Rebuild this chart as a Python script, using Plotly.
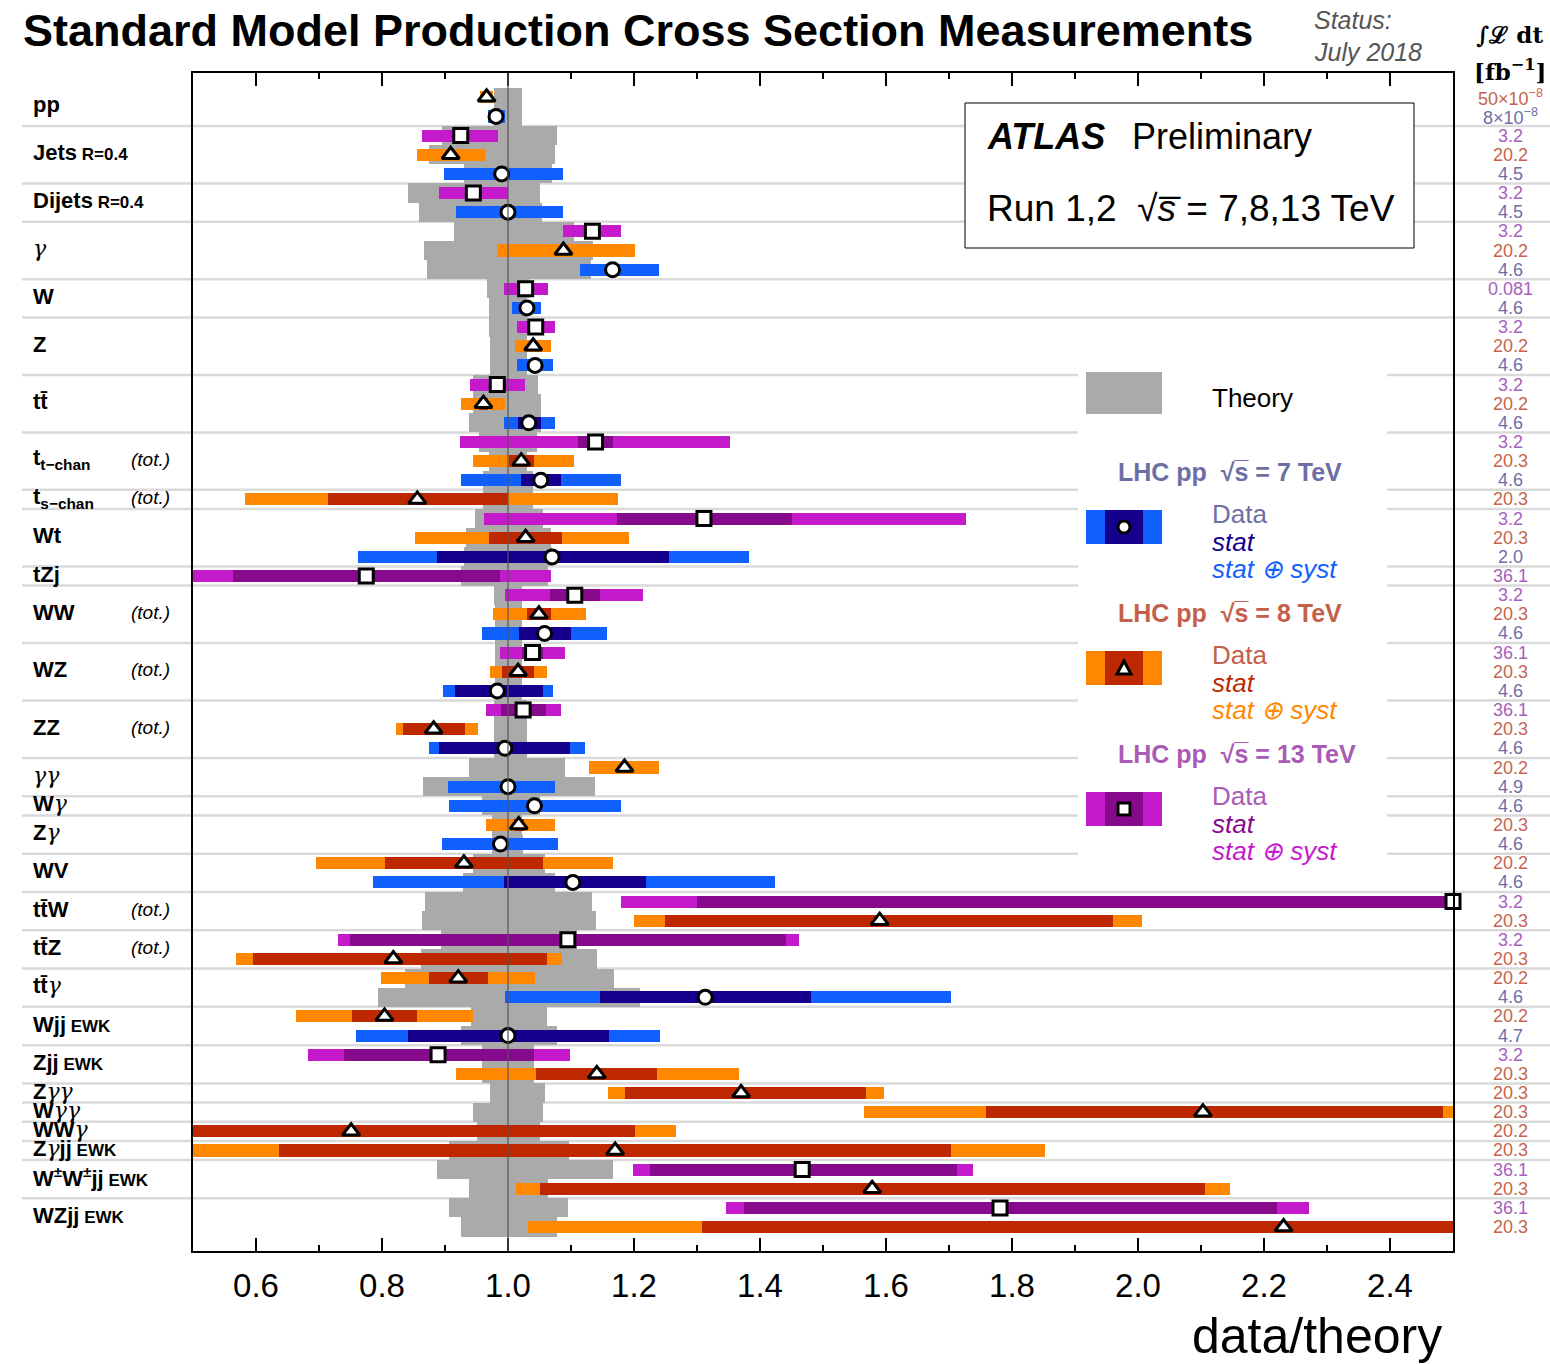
import plotly.graph_objects as go

# ---------------- data ----------------
energy = [8, 7, 13, 8, 7, 13, 7, 13, 8, 7,
          13, 7, 13, 8, 7, 13, 8, 7, 13, 8,
          7, 8, 13, 8, 7, 13, 13, 8, 7, 13,
          8, 7, 13, 8, 7, 8, 7, 7, 8, 7,
          8, 7, 13, 8, 13, 8, 8, 7, 8, 7,
          13, 8, 8, 8, 8, 8, 13, 8, 13, 8]
value = [0.966, 0.981, 0.925, 0.909, 0.990, 0.945, 1.000, 1.134, 1.088, 1.166,
         1.028, 1.030, 1.044, 1.040, 1.043, 0.983, 0.961, 1.033, 1.139, 1.021,
         1.052, 0.856, 1.311, 1.028, 1.070, 0.775, 1.106, 1.049, 1.058, 1.039,
         1.016, 0.983, 1.024, 0.882, 0.995, 1.185, 1.000, 1.042, 1.017, 0.988,
         0.930, 1.103, 2.500, 1.590, 1.095, 0.818, 0.921, 1.313, 0.804, 1.000,
         0.889, 1.141, 1.370, 2.103, 0.751, 1.170, 1.467, 1.578, 1.781, 2.231]
stat_lo = [0, 0, 0, 0, 0, 0, 0, 0, 0, 0,
           0, 0, 0, 0, 0, 0, 0.007, 0.017, 0.028, 0.020,
           0.031, 0.142, 0.138, 0.058, 0.183, 0.212, 0.040, 0.019, 0.041, 0.016,
           0.025, 0.067, 0.035, 0.048, 0.105, 0, 0, 0, 0.008, 0,
           0.125, 0.110, 1.200, 0.341, 0.346, 0.223, 0.047, 0.167, 0.051, 0.159,
           0.150, 0.096, 0.184, 0.344, 0.451, 0.533, 0.242, 0.528, 0.406, 0.923]
stat_hi = [0, 0, 0, 0, 0, 0, 0, 0, 0, 0,
           0, 0, 0, 0, 0, 0, 0.007, 0.019, 0.028, 0.020,
           0.032, 0.144, 0.140, 0.058, 0.186, 0.213, 0.040, 0.019, 0.042, 0.016,
           0.025, 0.073, 0.036, 0.049, 0.103, 0, 0, 0, 0.008, 0,
           0.125, 0.116, 1.200, 0.371, 0.346, 0.244, 0.047, 0.168, 0.051, 0.161,
           0.152, 0.096, 0.198, 0.381, 0.451, 0.533, 0.246, 0.528, 0.440, 0.923]
tot_lo = [0.010, 0.013, 0.061, 0.053, 0.091, 0.055, 0.083, 0.046, 0.106, 0.052,
          0.034, 0.023, 0.030, 0.029, 0.028, 0.043, 0.036, 0.039, 0.215, 0.077,
          0.127, 0.273, 0.349, 0.175, 0.308, 0.300, 0.110, 0.073, 0.099, 0.051,
          0.045, 0.086, 0.059, 0.060, 0.120, 0.056, 0.095, 0.135, 0.052, 0.092,
          0.235, 0.317, 1.320, 0.390, 0.365, 0.250, 0.122, 0.317, 0.141, 0.241,
          0.207, 0.224, 0.211, 0.538, 0.515, 0.680, 0.268, 0.566, 0.435, 1.200]
tot_hi = [0.010, 0.014, 0.059, 0.054, 0.098, 0.055, 0.088, 0.046, 0.113, 0.073,
          0.036, 0.023, 0.030, 0.029, 0.028, 0.044, 0.034, 0.042, 0.213, 0.084,
          0.128, 0.319, 0.416, 0.164, 0.312, 0.294, 0.108, 0.075, 0.099, 0.052,
          0.046, 0.089, 0.060, 0.070, 0.127, 0.054, 0.074, 0.137, 0.057, 0.092,
          0.236, 0.321, 1.320, 0.417, 0.367, 0.267, 0.122, 0.390, 0.141, 0.242,
          0.209, 0.225, 0.227, 0.400, 0.515, 0.682, 0.271, 0.568, 0.490, 1.200]
theory_lo = [0.978, 0.978, 0.896, 0.875, 0.930, 0.842, 0.858, 0.915, 0.866, 0.871,
             0.967, 0.970, 0.970, 0.971, 0.972, 0.945, 0.945, 0.938, 0.954, 0.970,
             0.961, 0.961, 0.947, 0.933, 0.930, 0.925, 0.978, 0.979, 0.979, 0.979,
             0.979, 0.979, 0.977, 0.977, 0.977, 0.938, 0.865, 0.959, 0.975, 0.974,
             0.944, 0.928, 0.868, 0.863, 0.893, 0.862, 0.836, 0.793, 0.941, 0.925,
             0.958, 0.958, 0.972, 0.945, 0.951, 0.906, 0.887, 0.938, 0.907, 0.925]
theory_hi = [1.023, 1.023, 1.077, 1.075, 1.070, 1.051, 1.054, 1.104, 1.135, 1.131,
             1.033, 1.030, 1.030, 1.030, 1.030, 1.048, 1.053, 1.053, 1.046, 1.030,
             1.040, 1.040, 1.055, 1.068, 1.070, 1.063, 1.022, 1.022, 1.022, 1.023,
             1.023, 1.023, 1.030, 1.030, 1.030, 1.090, 1.138, 1.050, 1.022, 1.024,
             1.059, 1.074, 1.134, 1.140, 1.110, 1.141, 1.168, 1.210, 1.062, 1.078,
             1.041, 1.041, 1.058, 1.056, 1.051, 1.097, 1.166, 1.064, 1.096, 1.078]
lumi = ["50×10<sup>−8</sup>", "8×10<sup>−8</sup>", "3.2", "20.2", "4.5", "3.2", "4.5", "3.2", "20.2", "4.6",
        "0.081", "4.6", "3.2", "20.2", "4.6", "3.2", "20.2", "4.6", "3.2", "20.3",
        "4.6", "20.3", "3.2", "20.3", "2.0", "36.1", "3.2", "20.3", "4.6", "36.1",
        "20.3", "4.6", "36.1", "20.3", "4.6", "20.2", "4.9", "4.6", "20.3", "4.6",
        "20.2", "4.6", "3.2", "20.3", "3.2", "20.3", "20.2", "4.6", "20.2", "4.7",
        "3.2", "20.3", "20.3", "20.3", "20.2", "20.3", "36.1", "20.3", "36.1", "20.3"]
G = "<span style='font-family:DejaVu Serif;font-weight:normal'><i>γ</i></span>"
# process groups: (label, small suffix, "(tot.)" flag, rows)
groups = [
    ("pp", "", False, [0, 1]),
    ("Jets", " R=0.4", False, [2, 3, 4]),
    ("Dijets", " R=0.4", False, [5, 6]),
    (G, "", False, [7, 8, 9]),
    ("W", "", False, [10, 11]),
    ("Z", "", False, [12, 13, 14]),
    ("tt\u0304", "", False, [15, 16, 17]),
    ("t<sub>t−chan</sub>", "", True, [18, 19, 20]),
    ("t<sub>s−chan</sub>", "", True, [21]),
    ("Wt", "", False, [22, 23, 24]),
    ("tZj", "", False, [25]),
    ("WW", "", True, [26, 27, 28]),
    ("WZ", "", True, [29, 30, 31]),
    ("ZZ", "", True, [32, 33, 34]),
    (G + G, "", False, [35, 36]),
    ("W" + G, "", False, [37]),
    ("Z" + G, "", False, [38, 39]),
    ("WV", "", False, [40, 41]),
    ("tt\u0304W", "", True, [42, 43]),
    ("tt\u0304Z", "", True, [44, 45]),
    ("tt\u0304" + G, "", False, [46, 47]),
    ("Wjj", " EWK", False, [48, 49]),
    ("Zjj", " EWK", False, [50, 51]),
    ("Z" + G + G, "", False, [52]),
    ("W" + G + G, "", False, [53]),
    ("WW" + G, "", False, [54]),
    ("Z" + G + "jj", " EWK", False, [55]),
    ("W<sup>±</sup>W<sup>±</sup>jj", " EWK", False, [56, 57]),
    ("WZjj", " EWK", False, [58, 59]),
]
xticks = [0.6, 0.8, 1.0, 1.2, 1.4, 1.6, 1.8, 2.0, 2.2, 2.4]

# ---------------- styles ----------------
COL = {
    7: dict(tot="#1060ff", stat="#14008c", sym="circle", lumi="#6e6eaa", head="#6e6ea6"),
    8: dict(tot="#ff8800", stat="#be2800", sym="triangle-up", lumi="#c8644e", head="#c4604a"),
    13: dict(tot="#c41acc", stat="#880a8c", sym="square", lumi="#a860bc", head="#a85cb4"),
}
MSIZE = {7: 14, 8: 15, 13: 14}
THEORY = "#aaaaaa"
SEP = "#dadada"
W, H = 1550, 1364
L, R, T, B = 193, 1453, 73, 1251
BAR_W = 0.63
rows = list(range(len(value)))


def px(x):
    return (x - L) / (R - L)


def py(y):
    return 1 - (y - T) / (B - T)


fig = go.Figure()

# theory bands
fig.add_trace(go.Bar(orientation="h", y=rows,
                     base=theory_lo,
                     x=[h - l for l, h in zip(theory_lo, theory_hi)],
                     width=1.0, marker=dict(color=THEORY, line=dict(width=0)),
                     hoverinfo="skip", showlegend=False))

for E in (7, 8, 13):
    idx = [i for i in rows if energy[i] == E]
    fig.add_trace(go.Bar(orientation="h", y=idx,
                         base=[value[i] - tot_lo[i] for i in idx],
                         x=[tot_lo[i] + tot_hi[i] for i in idx],
                         width=BAR_W, marker=dict(color=COL[E]["tot"], line=dict(width=0)),
                         hoverinfo="skip", showlegend=False))
    fig.add_trace(go.Bar(orientation="h", y=idx,
                         base=[value[i] - stat_lo[i] for i in idx],
                         x=[stat_lo[i] + stat_hi[i] for i in idx],
                         width=BAR_W, marker=dict(color=COL[E]["stat"], line=dict(width=0)),
                         hoverinfo="skip", showlegend=False))

for E in (7, 8, 13):
    idx = [i for i in rows if energy[i] == E]
    fig.add_trace(go.Scatter(x=[value[i] for i in idx], y=idx, mode="markers",
                             marker=dict(symbol=COL[E]["sym"], size=MSIZE[E], color="white",
                                         line=dict(color="black", width=3)),
                             cliponaxis=False, hoverinfo="skip", showlegend=False))

# helper trace for the top tick axis
fig.add_trace(go.Scatter(x=[1.0], y=[0], xaxis="x2", mode="markers",
                         marker=dict(opacity=0), hoverinfo="skip", showlegend=False))

shapes = []
# separators between processes
for g in groups[1:]:
    r0 = g[3][0]
    shapes.append(dict(type="line", xref="paper", yref="y", x0=px(22), x1=px(1550),
                       y0=r0 - 0.5, y1=r0 - 0.5, line=dict(color=SEP, width=2.5), layer="below"))
# ATLAS box and legend box
shapes.append(dict(type="rect", xref="paper", yref="paper", x0=px(965), x1=px(1414),
                   y0=py(248), y1=py(103), line=dict(color="black", width=1),
                   fillcolor="white", layer="below"))
shapes.append(dict(type="rect", xref="paper", yref="paper", x0=px(1078), x1=px(1387),
                   y0=py(868), y1=py(356), line=dict(width=0),
                   fillcolor="white", layer="below"))
# vertical line at 1
shapes.append(dict(type="line", xref="x", yref="paper", x0=1.0, x1=1.0, y0=0, y1=1,
                   line=dict(color="#555555", width=1.2), layer="above"))
# legend swatches
shapes.append(dict(type="rect", xref="paper", yref="paper", x0=px(1086), x1=px(1162),
                   y0=py(414), y1=py(372), line=dict(width=0), fillcolor=THEORY))
leg_y = {7: 527, 8: 668, 13: 809}
for E, yc in leg_y.items():
    shapes.append(dict(type="rect", xref="paper", yref="paper", x0=px(1086), x1=px(1162),
                       y0=py(yc + 17), y1=py(yc - 17), line=dict(width=0),
                       fillcolor=COL[E]["tot"]))
    shapes.append(dict(type="rect", xref="paper", yref="paper", x0=px(1105), x1=px(1143),
                       y0=py(yc + 17), y1=py(yc - 17), line=dict(width=0),
                       fillcolor=COL[E]["stat"]))
mk = dict(line=dict(color="black", width=3), fillcolor="white", xref="paper", yref="paper")
shapes.append(dict(type="circle", x0=px(1118), x1=px(1130), y0=py(533), y1=py(521), **mk))
shapes.append(dict(type="path",
                   path=f"M {px(1117)},{py(674)} L {px(1131)},{py(674)} L {px(1124)},{py(661)} Z", **mk))
shapes.append(dict(type="rect", x0=px(1118), x1=px(1130), y0=py(815), y1=py(803), **mk))

ann = []
LBL_FONT = "Liberation Sans, Arial, sans-serif"
for lab, suf, tot, rr in groups:
    yc = sum(rr) / len(rr)
    txt = "<b>" + lab + "</b>"
    if suf:
        txt += "<b><span style='font-size:17px'>" + suf + "</span></b>"
    ann.append(dict(xref="paper", yref="y", x=px(31), y=yc - 0.1, text=txt, showarrow=False,
                    xanchor="left", yanchor="middle",
                    font=dict(family=LBL_FONT, size=22, color="black")))
    if tot:
        ann.append(dict(xref="paper", yref="y", x=px(129), y=yc - 0.1, text="<i>(tot.)</i>",
                        showarrow=False, xanchor="left", yanchor="middle",
                        font=dict(family=LBL_FONT, size=19, color="black")))
for i in rows:
    ann.append(dict(xref="paper", yref="y", x=px(1510), y=i, text=lumi[i], showarrow=False,
                    xanchor="center", yanchor="middle",
                    font=dict(family=LBL_FONT, size=18, color=COL[energy[i]]["lumi"])))


def text(x, y, t, size, color="black", anchor="left", family=LBL_FONT):
    ann.append(dict(xref="paper", yref="paper", x=px(x), y=py(y), text=t, showarrow=False,
                    xanchor=anchor, yanchor="middle",
                    font=dict(family=family, size=size, color=color)))


text(21, 31, "<b>Standard Model Production Cross Section Measurements</b>", 45)
text(1312, 20, "<i>Status:</i>", 25, "#555555")
text(1312, 52, "<i>July 2018</i>", 25, "#555555")
text(1509, 34, "<b>∫ℒ dt</b>", 23, "black", "center", "DejaVu Serif, serif")
text(1510, 70, "<b>[fb<sup>−1</sup>]</b>", 23, "black", "center", "DejaVu Serif, serif")
text(985, 136, "<b><i>ATLAS</i></b>", 36)
text(1130, 136, "Preliminary", 36)
text(985, 209, "Run 1,2  √<i>s\u0305</i> = 7,8,13 TeV", 37)
text(1210, 398, "Theory", 26)
for E, yh, yc in ((7, 472, 527), (8, 613, 668), (13, 754, 809)):
    text(1116, yh, f"<b>LHC pp  √<span>s\u0305</span> = {E} TeV</b>", 25, COL[E]["head"])
    text(1210, yc - 13, "Data", 26, COL[E]["head"])
    text(1210, yc + 15, "<i>stat</i>", 26, COL[E]["stat"])
    text(1210, yc + 42, "<i>stat ⊕ syst</i>", 26, COL[E]["tot"])
text(1444, 1336, "data/theory", 50, "black", "right")

axis_common = dict(range=[0.5, 2.5], tickmode="array", tickvals=xticks,
                   ticks="inside", ticklen=13, tickwidth=2, tickcolor="black",
                   minor=dict(ticks="inside", ticklen=6, tickwidth=2, tickcolor="black",
                              tickmode="linear", tick0=0.5, dtick=0.1),
                   showgrid=False, zeroline=False)
fig.update_layout(
    width=W, height=H,
    margin=dict(l=L, r=W - R, t=T, b=H - B),
    paper_bgcolor="white", plot_bgcolor="white",
    barmode="overlay", bargap=0,
    showlegend=False,
    xaxis=dict(**axis_common, showline=True, linewidth=2, linecolor="black", mirror=True,
               ticktext=[f"{v:.1f}" for v in xticks],
               tickfont=dict(family=LBL_FONT, size=33, color="black"),
               ticklabelstandoff=4),
    xaxis2=dict(**axis_common, overlaying="x", side="top", matches="x",
                showticklabels=False, showline=False, anchor="y"),
    yaxis=dict(range=[60.25, -1.27], showticklabels=False, ticks="", showgrid=False,
               zeroline=False, showline=True, linewidth=2, linecolor="black", mirror=True),
    shapes=shapes, annotations=ann,
)
fig.write_html("out.html")
